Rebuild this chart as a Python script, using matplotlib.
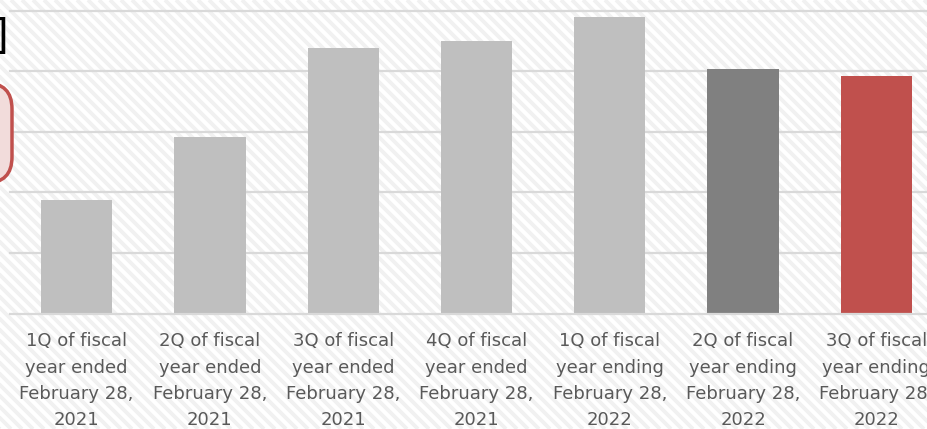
import matplotlib
matplotlib.use("Agg")
import matplotlib.pyplot as plt
from matplotlib.patches import FancyBboxPatch
from matplotlib.collections import LineCollection

categories = [
    "1Q of fiscal\nyear ended\nFebruary 28,\n2021",
    "2Q of fiscal\nyear ended\nFebruary 28,\n2021",
    "3Q of fiscal\nyear ended\nFebruary 28,\n2021",
    "4Q of fiscal\nyear ended\nFebruary 28,\n2021",
    "1Q of fiscal\nyear ending\nFebruary 28,\n2022",
    "2Q of fiscal\nyear ending\nFebruary 28,\n2022",
    "3Q of fiscal\nyear ending\nFebruary 28,\n2022",
]
values = [1.88, 2.91, 4.38, 4.49, 4.89, 4.03, 3.92]
bar_colors = ["#bfbfbf", "#bfbfbf", "#bfbfbf", "#bfbfbf", "#bfbfbf", "#808080", "#c0504d"]

W, H = 927, 429
fig = plt.figure(figsize=(W / 100, H / 100), dpi=100)
fig.patch.set_facecolor("white")

# diagonal striped background
bg = fig.add_axes([0, 0, 1, 1], zorder=-5)
bg.set_xlim(0, W)
bg.set_ylim(0, H)
bg.axis("off")
period = 11
segs = [[(c, H), (c + H, 0)] for c in range(-H - period, W + period, period)]
bg.add_collection(LineCollection(segs, colors="#f1f1f1", linewidths=2.8))

left_px, right_px = 10, 943
bottom_px, top_px = 313.5, 10.5
ax = fig.add_axes([left_px / W, (H - bottom_px) / H, (right_px - left_px) / W,
                   (bottom_px - top_px) / H])
ax.patch.set_alpha(0)
ax.set_xlim(-0.5, len(values) - 0.5)
ax.set_ylim(0, 5)

for y in [1, 2, 3, 4, 5]:
    ax.axhline(y, color="#d9d9d9", linewidth=1.6, zorder=1, clip_on=False)
ax.axhline(0, color="#d9d9d9", linewidth=1.6, zorder=3, clip_on=False)

ax.bar(range(len(values)), values, width=0.535, color=bar_colors, zorder=2)

for s in ax.spines.values():
    s.set_visible(False)
ax.set_yticks([])
ax.set_xticks(range(len(values)))
ax.set_xticklabels(categories, fontsize=13, color="#595959", linespacing=1.6,
                   family=["DejaVu Sans"])
ax.tick_params(axis="x", length=0, pad=13.5)

# cut-off title bracket
fig.text(7.5 / W, 1 - 37 / H, "]", ha="right", va="center", fontsize=29,
         color="black", family=["DejaVu Sans"])

# cut-off red rounded box
box = FancyBboxPatch((-60 / W, 1 - 183 / H), (60 + 12) / W, 100 / H,
                     boxstyle="round,pad=0,rounding_size=0.028",
                     transform=fig.transFigure, facecolor="#f2dcdb",
                     edgecolor="#c0504d", linewidth=2.5, mutation_aspect=W / H)
fig.patches.append(box)

fig.savefig("out.png", dpi=100)
